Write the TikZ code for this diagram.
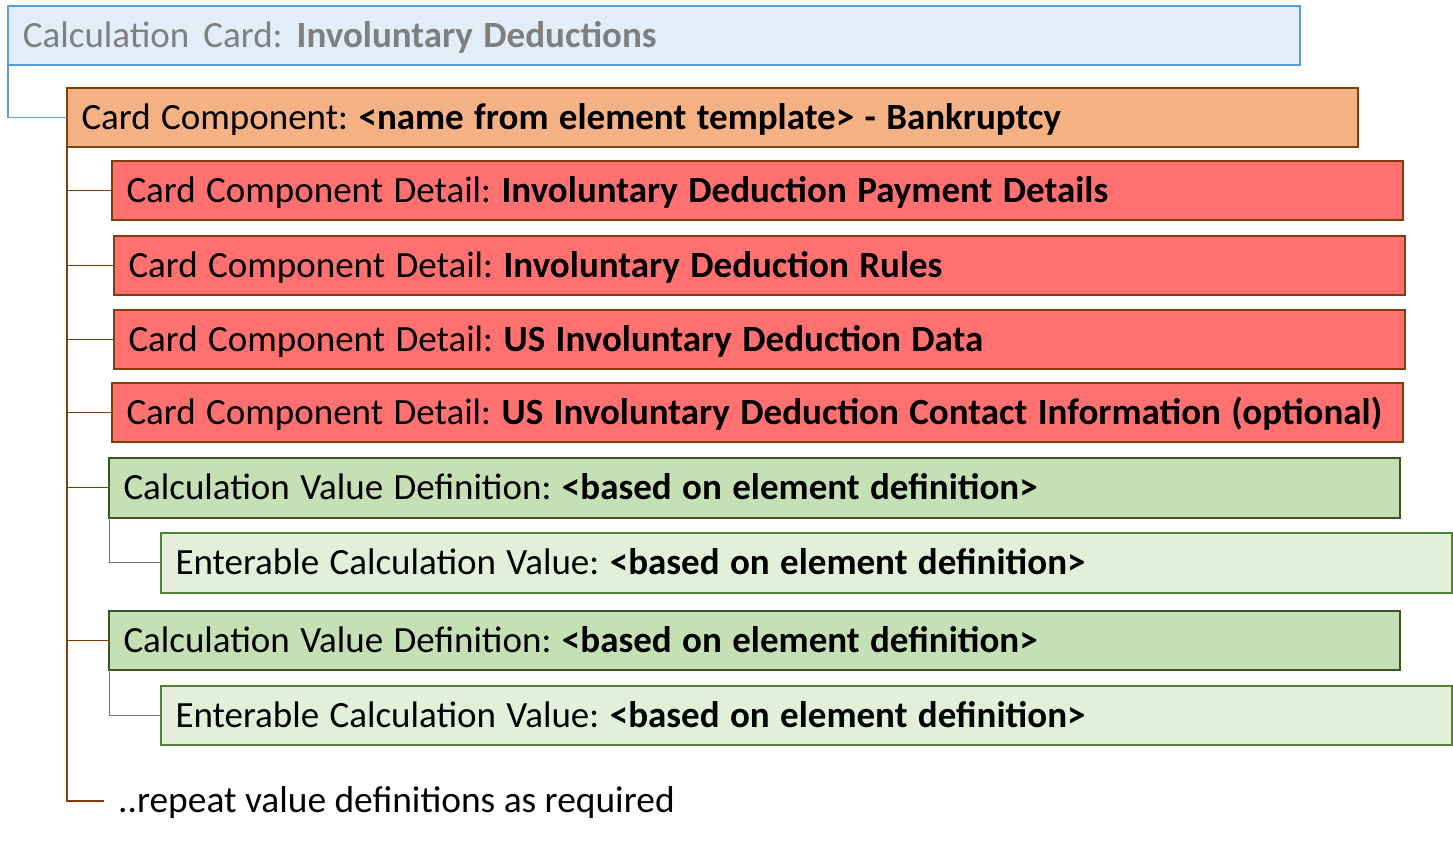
\documentclass[tikz,border=0pt]{standalone}
\usepackage{fontspec}
\setmainfont{Carlito}
\frenchspacing
\newcommand\boxtext[1]{\mbox{\spaceskip=10.4pt\relax\xspaceskip=10.4pt\relax #1}}
\newcommand\cardtext[1]{\mbox{\spaceskip=14pt\relax\xspaceskip=14pt\relax #1}}
\definecolor{bluefill}{HTML}{E3EDF7}
\definecolor{blueline}{HTML}{5B9BD5}
\definecolor{bluetext}{HTML}{7F7F7F}
\definecolor{orfill}{HTML}{F4B183}
\definecolor{brownline}{HTML}{843C0C}
\definecolor{redfill}{HTML}{FF7171}
\definecolor{grfill}{HTML}{C5E0B4}
\definecolor{grline}{HTML}{385723}
\definecolor{lgfill}{HTML}{E2F0D9}
\definecolor{lgline}{HTML}{548235}
\definecolor{grconn}{HTML}{6F7D66}
\begin{document}
\begin{tikzpicture}[x=1pt,y=-1pt,
  box/.style={rectangle, draw, line width=2pt, anchor=north west,
    minimum width=1291.5pt, minimum height=59.5pt, inner xsep=15pt, inner ysep=0pt,
    text width=1261.5pt, align=left, text height=23.8pt, text depth=0pt,
    outer sep=0pt, font=\fontsize{37}{40}\selectfont},
  cardbox/.style={box, fill=bluefill, draw=blueline, text=bluetext},
  compbox/.style={box, fill=orfill, draw=brownline},
  detbox/.style={box, fill=redfill, draw=brownline},
  valbox/.style={box, fill=grfill, draw=grline},
  entbox/.style={box, fill=lgfill, draw=lgline},
  conn/.style={line width=1.2pt},
]
\useasboundingbox (0,0) rectangle (1453,846);

\node[cardbox] (card) at (8,5.5) {\cardtext{Calculation Card: \textbf{\spaceskip=10.4pt\relax Involuntary Deductions}}};
\node[compbox] (comp) at (66.5,87.5) {\boxtext{Card Component: \textbf{<name from element template> - Bankruptcy}}};
\node[detbox] (d1) at (111.5,160.5) {\boxtext{Card Component Detail: \textbf{Involuntary Deduction Payment Details}}};
\node[detbox] (d2) at (113.5,235.5) {\boxtext{Card Component Detail: \textbf{Involuntary Deduction Rules}}};
\node[detbox] (d3) at (113.5,309.5) {\boxtext{Card Component Detail: \textbf{US Involuntary Deduction Data}}};
\node[detbox] (d4) at (111.5,382.5) {\boxtext{Card Component Detail: \textbf{US Involuntary Deduction Contact Information (optional)}}};
\node[valbox] (v1) at (108.5,458) {\boxtext{Calculation Value Definition: \textbf{<based on element definition>}}};
\node[entbox] (e1) at (160.5,533) {\boxtext{Enterable Calculation Value: \textbf{<based on element definition>}}};
\node[valbox] (v2) at (108.5,610.5) {\boxtext{Calculation Value Definition: \textbf{<based on element definition>}}};
\node[entbox] (e2) at (160.5,685.5) {\boxtext{Enterable Calculation Value: \textbf{<based on element definition>}}};

\node[anchor=base west, inner sep=0pt, font=\fontsize{37.4}{40}\selectfont] (rep) at (118,812) {..repeat value definitions as required};
\coordinate (repend) at (103.5,801);

\draw[conn, blueline] (card.south west) |- (comp.west);
\draw[conn, brownline] ([xshift=0.5pt]comp.south west) |- (repend);
\foreach \n in {d1,d2,d3,d4,v1,v2}
  \draw[conn, brownline] ([xshift=0.5pt]comp.south west |- \n.west) -- (\n.west);
\draw[conn, grconn] ([xshift=1pt]v1.south west) |- (e1.west);
\draw[conn, grconn] ([xshift=1pt]v2.south west) |- (e2.west);
\end{tikzpicture}
\end{document}
